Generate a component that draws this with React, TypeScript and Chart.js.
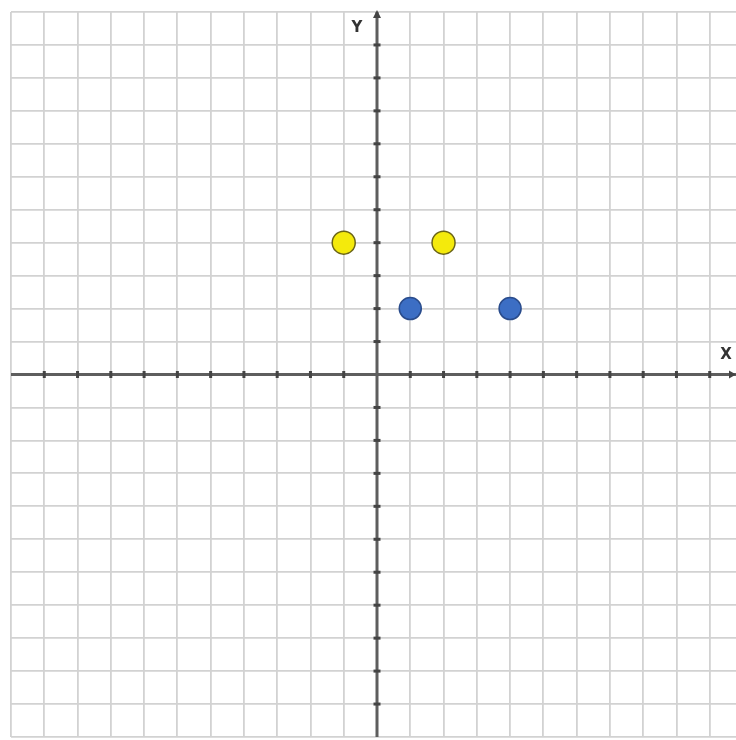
import React, { useEffect, useRef } from "react";
import { Chart, registerables } from "chart.js";

Chart.register(...registerables);

const yellowX = [-1, 2];
const yellowY = [4, 4];
const blueX = [1, 4];
const blueY = [2, 2];
const axisMin = -11;
const axisMax = 11;
const axisLabels = ["X", "Y"];

const axesPlugin = {
  id: "axesPlugin",
  beforeDatasetsDraw(chart: any) {
    const { ctx, scales } = chart;
    const xs = scales.x;
    const ys = scales.y;
    const x0 = xs.getPixelForValue(0);
    const y0 = ys.getPixelForValue(0);
    const left = xs.getPixelForValue(axisMin);
    const right = 736;
    const top = ys.getPixelForValue(axisMax);
    const bottom = ys.getPixelForValue(axisMin);
    ctx.save();
    ctx.strokeStyle = "#5e5e5e";
    ctx.lineWidth = 3;
    ctx.beginPath();
    ctx.moveTo(left, y0);
    ctx.lineTo(right, y0);
    ctx.moveTo(x0, top);
    ctx.lineTo(x0, bottom);
    ctx.stroke();
    ctx.fillStyle = "#444";
    for (let v = axisMin + 1; v < axisMax; v++) {
      if (v === 0) continue;
      const px = xs.getPixelForValue(v);
      ctx.fillRect(px - 1.5, y0 - 3.5, 3, 7);
      const py = ys.getPixelForValue(v);
      ctx.fillRect(x0 - 3.5, py - 1.5, 7, 3);
    }
    ctx.beginPath();
    ctx.moveTo(736, y0);
    ctx.lineTo(729, y0 - 4);
    ctx.lineTo(729, y0 + 4);
    ctx.closePath();
    ctx.fill();
    ctx.beginPath();
    ctx.moveTo(x0, top - 2);
    ctx.lineTo(x0 - 4, top + 6);
    ctx.lineTo(x0 + 4, top + 6);
    ctx.closePath();
    ctx.fill();
    ctx.font = "bold 15px 'DejaVu Sans', sans-serif";
    ctx.fillStyle = "#333";
    ctx.textAlign = "center";
    ctx.textBaseline = "middle";
    ctx.fillText(axisLabels[0], 726, y0 - 19);
    ctx.fillText(axisLabels[1], x0 - 20, top + 16);
    ctx.restore();
  },
};

export default function App() {
  const ref = useRef<HTMLCanvasElement>(null);
  useEffect(() => {
    if (!ref.current) return;
    const chart = new Chart(ref.current, {
      type: "scatter",
      data: {
        datasets: [
          {
            data: yellowX.map((x, i) => ({ x, y: yellowY[i] })),
            backgroundColor: "#f4ea0c",
            borderColor: "#6a6418",
            borderWidth: 1.5,
            pointRadius: 11.5,
          },
          {
            data: blueX.map((x, i) => ({ x, y: blueY[i] })),
            backgroundColor: "#3c6ec4",
            borderColor: "#2a4c8c",
            borderWidth: 1.5,
            pointRadius: 11,
          },
        ],
      },
      options: {
        animation: false,
        responsive: false,
        layout: { autoPadding: false, padding: { left: 11, top: 12, right: 17, bottom: 3 } },
        plugins: { legend: { display: false }, tooltip: { enabled: false } },
        scales: {
          x: {
            type: "linear",
            min: axisMin,
            max: axisMax,
            ticks: { display: false, stepSize: 1 },
            grid: { color: "#d2d2d2", lineWidth: 1.8, drawTicks: false },
            border: { display: false },
          },
          y: {
            type: "linear",
            min: axisMin,
            max: axisMax,
            ticks: { display: false, stepSize: 1 },
            grid: { color: "#d2d2d2", lineWidth: 1.8, drawTicks: false },
            border: { display: false },
          },
        },
      },
      plugins: [axesPlugin],
    });
    return () => chart.destroy();
  }, []);
  return (
    <div
      style={{
        position: "fixed",
        left: 0,
        top: 0,
        width: 736,
        height: 740,
        overflow: "hidden",
        background: "#fff",
      }}
    >
      <canvas ref={ref} width={760} height={740} style={{ display: "block" }} />
    </div>
  );
}
